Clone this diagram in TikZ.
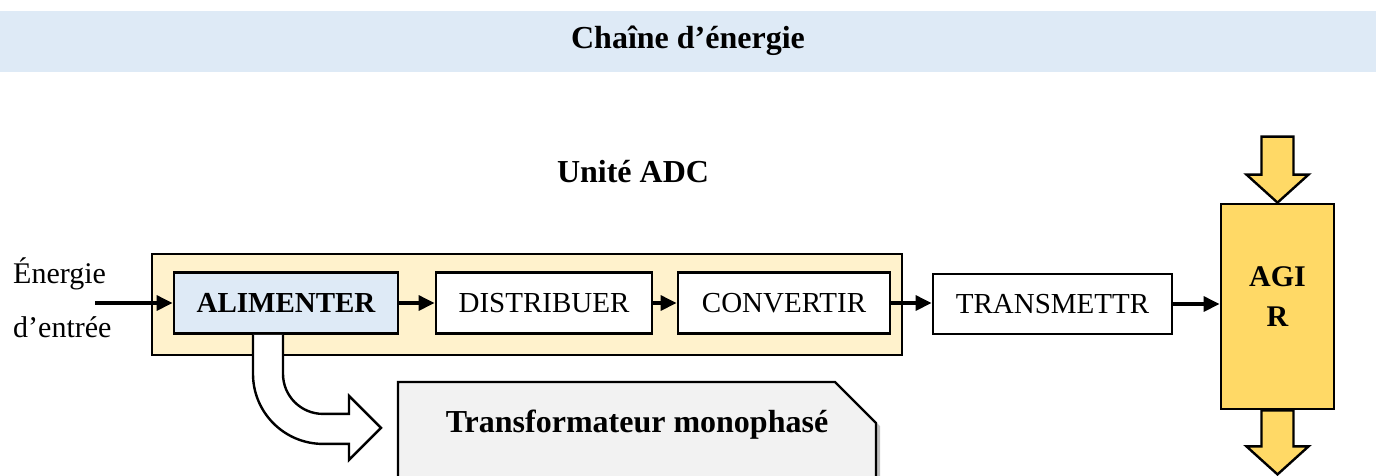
\documentclass[tikz,border=0pt]{standalone}
\usepackage{fontspec}
\setmainfont{Liberation Serif}
\usetikzlibrary{arrows.meta,calc,shapes.misc,shadows}
\definecolor{bande}{RGB}{222,234,246}
\definecolor{creme}{RGB}{255,242,204}
\definecolor{jaune}{RGB}{255,217,102}
\definecolor{gris}{RGB}{242,242,242}
\tikzset{
  flux/.style={line width=3.2pt,-{Triangle[length=16pt,width=15pt]}},
  bloc/.style={draw,line width=2.8pt,minimum height=61pt,inner sep=0pt,font=\fontsize{29}{32}\selectfont},
  grosse/.style={draw,line width=2.4pt,fill=jaune,line join=miter}
}
\newcommand{\flecheBas}[2]{
  % #1 : milieu du haut, #2 : longueur jusqu'a la pointe
  \draw[grosse] ($(#1)+(-16,0)$) -- ++(32,0) -- ++(0,{-(#2-28)}) -- ++(15,0)
    -- ($(#1)+(0,-#2)$) -- ++(-31,28) -- ++(15,0) -- cycle;
}

\begin{document}
\begin{tikzpicture}[x=1pt,y=1pt]
  \useasboundingbox (0,0) rectangle (1376,-475);

  % ================= bandeau =================
  \node[fill=bande,minimum width=1376pt,minimum height=61pt,inner sep=0pt,
        font=\fontsize{32}{36}\selectfont\bfseries] (titre) at (688,-41) {Chaîne d’énergie};

  % ================= unité ADC =================
  \node[font=\fontsize{32}{36}\selectfont\bfseries] (unite) at (633,-172) {Unité ADC};
  \node[draw,fill=creme,line width=2.4pt,minimum width=750pt,minimum height=101pt,inner sep=0pt] (adc) at (527,-304.5) {};

  \node[bloc,fill=bande,minimum width=224pt,font=\fontsize{29}{32}\selectfont\bfseries] (alim) at (286,-303) {ALIMENTER};
  \node[bloc,fill=white,minimum width=216pt] (dist) at (544,-303) {DISTRIBUER};
  \node[bloc,fill=white,minimum width=212pt] (conv) at (784,-303) {CONVERTIR};
  \node[bloc,fill=white,minimum width=239pt,minimum height=60pt] (trans) at (1052.5,-304) {TRANSMETTR};
  \node[bloc,fill=jaune,minimum width=113pt,minimum height=205pt,align=center,
        font=\fontsize{30}{40}\selectfont\bfseries,text depth=19pt] (agir) at (1277.5,-306.5) {AGI\\R};

  % entrée
  \node[anchor=west,inner sep=0pt,align=left,font=\fontsize{30}{54}\selectfont] (entreetxt) at (13,-298) {Énergie\\d’entrée};
  \coordinate (entree) at (95,-303);

  \draw[flux] (entree) -- (entree -| alim.west);
  \draw[flux] (alim.east) -- (dist.west);
  \draw[flux] (dist.east) -- (conv.west);
  \draw[flux] (conv.east) -- (conv.east -| trans.west);
  \draw[flux] (trans.east) -- (trans.east -| agir.west);

  % ================= grosses flèches de AGIR =================
  \flecheBas{$(agir.north)+(0,66)$}{66}
  \flecheBas{agir.south}{64}

  % ================= flèche creuse vers le transformateur =================
  \draw[line width=2.4pt,fill=white,line join=miter]
    ($(alim.south)+(-33,0)$) -- ++(0,-39) arc (180:270:70) -- ++(26,0) -- ++(0,-16)
    -- ++(32,32) -- ++(-32,32) -- ++(0,-18) -- ++(-26,0) arc (270:180:40) -- ++(0,39);

  \node[chamfered rectangle,chamfered rectangle corners=north east,chamfered rectangle xsep=21pt,
        chamfered rectangle ysep=20pt,draw,line width=2.4pt,fill=gris,minimum width=478pt,minimum height=103pt,
        inner sep=0pt,font=\fontsize{32}{36}\selectfont\bfseries,text depth=24pt,
        drop shadow={shadow xshift=4pt,shadow yshift=-3pt,opacity=0.5}] (transfo) at (637,-433.5) {Transformateur monophasé};
\end{tikzpicture}
\end{document}
